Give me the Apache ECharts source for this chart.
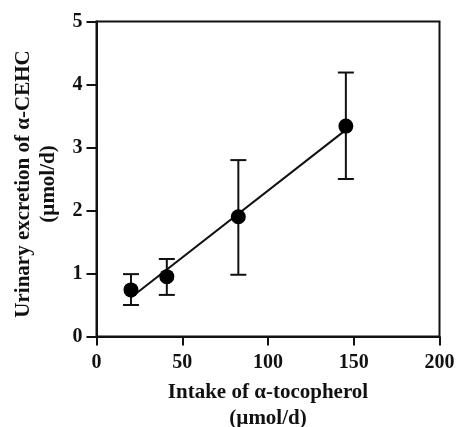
<!DOCTYPE html>
<html>
<head>
<meta charset="utf-8">
<script src="https://cdn.jsdelivr.net/npm/echarts@6/dist/echarts.min.js"></script>
<style>
html,body{margin:0;padding:0;background:#fff;}
#chart{width:457px;height:427px;}
</style>
</head>
<body>
<div id="chart"></div>
<script>
// Data
const intake = [20.1, 41.0, 82.7, 145.4];          // µmol/d
const excretion = [0.74, 0.95, 1.90, 3.34];        // µmol/d
const errLow = [0.50, 0.66, 0.98, 2.50];
const errHigh = [0.99, 1.23, 2.80, 4.19];
const fitX = [20.1, 145.4];
const fitY = [0.62, 3.28];
const xTicks = [0, 50, 100, 150, 200];
const yTicks = [0, 1, 2, 3, 4, 5];

const FONT = '"Liberation Serif", "Times New Roman", serif';
const INK = '#111';

const chart = echarts.init(document.getElementById('chart'));

const errData = intake.map((x, i) => [x, errLow[i], errHigh[i]]);
const pointData = intake.map((x, i) => [x, excretion[i]]);
const fitData = fitX.map((x, i) => [x, fitY[i]]);

chart.setOption({
  animation: false,
  backgroundColor: '#fff',
  grid: {
    left: 96.5, right: 17.5, top: 21.5, bottom: 90.5,
    containLabel: false, outerBoundsMode: 'none',
    show: true, borderColor: INK, borderWidth: 2, backgroundColor: 'transparent'
  },
  xAxis: {
    type: 'value', min: xTicks[0], max: xTicks[xTicks.length - 1], interval: 50,
    name: 'Intake of \u03b1-tocopherol\n(\u00b5mol/d)',
    nameLocation: 'middle', nameGap: 43,
    nameTextStyle: { fontFamily: FONT, fontWeight: 'bold', fontSize: 21, color: INK, lineHeight: 26 },
    axisLine: { show: true, onZero: false, lineStyle: { color: INK, width: 2 } },
    axisTick: { show: true, inside: false, length: 9, lineStyle: { color: INK, width: 2 } },
    axisLabel: { margin: 16, fontFamily: FONT, fontWeight: 'bold', fontSize: 20, color: INK },
    splitLine: { show: false }
  },
  yAxis: {
    type: 'value', min: yTicks[0], max: yTicks[yTicks.length - 1], interval: 1,
    name: 'Urinary excretion of \u03b1-CEHC\n(\u00b5mol/d)',
    nameLocation: 'middle', nameGap: 35, nameRotate: 90,
    nameTextStyle: { fontFamily: FONT, fontWeight: 'bold', fontSize: 21, color: INK, lineHeight: 25, padding: [0, 10, 0, 0] },
    axisLine: { show: true, onZero: false, lineStyle: { color: INK, width: 2 } },
    axisTick: { show: true, inside: false, length: 10, lineStyle: { color: INK, width: 2 } },
    axisLabel: { margin: 14, fontFamily: FONT, fontWeight: 'bold', fontSize: 20, color: INK },
    splitLine: { show: false }
  },
  series: [
    {
      type: 'line', data: fitData, symbol: 'none', silent: true,
      lineStyle: { color: INK, width: 2 }, z: 2
    },
    {
      type: 'custom', data: errData, z: 3,
      renderItem: function (params, api) {
        const x = api.value(0);
        const lo = api.coord([x, api.value(1)]);
        const hi = api.coord([x, api.value(2)]);
        const hw = 8;
        const style = { stroke: INK, lineWidth: 2 };
        return {
          type: 'group',
          children: [
            { type: 'line', shape: { x1: lo[0], y1: lo[1], x2: hi[0], y2: hi[1] }, style: style },
            { type: 'line', shape: { x1: lo[0] - hw, y1: lo[1], x2: lo[0] + hw, y2: lo[1] }, style: style },
            { type: 'line', shape: { x1: hi[0] - hw, y1: hi[1], x2: hi[0] + hw, y2: hi[1] }, style: style }
          ]
        };
      }
    },
    {
      type: 'scatter', data: pointData, symbol: 'circle', symbolSize: 15, z: 4,
      itemStyle: { color: '#000', opacity: 1 }
    }
  ]
});
</script>
</body>
</html>
